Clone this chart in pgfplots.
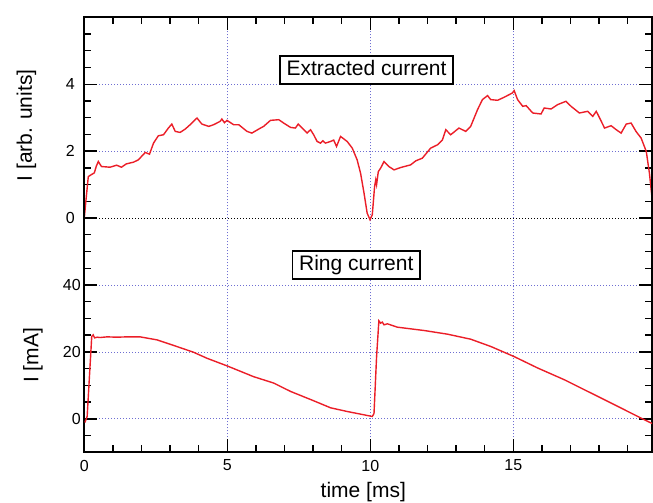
\documentclass[border=0pt]{standalone}
\usepackage{fontspec}
\setmainfont{Liberation Sans}
\usepackage{pgfplots}
\pgfplotsset{compat=1.18}

\definecolor{gridblue}{RGB}{110,110,210}
\definecolor{curvered}{RGB}{235,30,40}

\pgfplotsset{
  frame/.style={
    scale only axis, width=567.7pt, height=435pt,
    xmin=0, xmax=19.85,
    axis line style={line width=1.6pt},
    every tick/.style={black, line width=1.4pt},
    tick align=inside,
    major tick length=13pt, minor tick length=7pt,
    grid style={gridblue, line width=0.8pt, dash pattern=on 0.8pt off 2.2pt},
    tick label style={font=\fontsize{16}{16}\selectfont},
    /pgf/number format/assume math mode=true,
    label style={font=\fontsize{21}{21}\selectfont},
  },
}

\begin{document}
\begin{tikzpicture}
\useasboundingbox (-84.3pt,-50.7pt) rectangle (568.7pt,452.3pt);

% upper trace, extracted current
\begin{axis}[frame,
    ymin=-7, ymax=6,
    xtick={5,10,15}, xticklabels={}, xmajorgrids,
    minor xtick={1,2,3,4,6,7,8,9,11,12,13,14,16,17,18,19},
    ytick={2,4}, ymajorgrids,
    extra y ticks={0},
    extra y tick style={grid style={black, line width=0.8pt, dash pattern=on 0.8pt off 2.2pt}},
    minor ytick={-1,-0.5,0.5,1,1.5,2.5,3,3.5,4.5,5,5.5},
    yticklabel style={xshift=-6pt},
    ylabel={I [arb. units]},
    ylabel style={at={(axis description cs:-0.1018,0.7513)}, anchor=center, rotate=0},
  ]
  \addplot[curvered, line width=1.4pt] coordinates {
    (0.00,0.00) (0.06,0.55) (0.14,1.24) (0.25,1.30) (0.35,1.35) (0.42,1.55) (0.49,1.69)
    (0.60,1.54) (0.75,1.53) (0.90,1.52) (1.13,1.58) (1.30,1.52) (1.47,1.62)
    (1.72,1.67) (1.89,1.74) (2.13,1.96) (2.28,1.91) (2.42,2.24) (2.59,2.46)
    (2.77,2.49) (2.94,2.69) (3.06,2.81) (3.18,2.59) (3.35,2.56) (3.53,2.66)
    (3.70,2.79) (3.94,2.99) (4.11,2.81) (4.35,2.74) (4.52,2.79) (4.75,2.89)
    (4.81,2.96) (4.90,2.85) (4.99,2.92) (5.22,2.79) (5.40,2.79) (5.69,2.59)
    (5.86,2.54) (6.10,2.66) (6.27,2.74) (6.51,2.92) (6.80,2.94) (6.97,2.84)
    (7.21,2.71) (7.38,2.69) (7.48,2.81) (7.62,2.69) (7.79,2.54) (7.91,2.64)
    (8.02,2.49) (8.14,2.29) (8.26,2.24) (8.34,2.31) (8.43,2.24) (8.61,2.29)
    (8.72,2.33) (8.82,2.14) (8.96,2.44) (9.19,2.29) (9.37,2.09) (9.54,1.74)
    (9.66,1.34) (9.78,0.75) (9.89,0.15) (9.99,-0.05) (10.07,0.10) (10.15,0.94)
    (10.19,1.14) (10.22,1.00) (10.28,1.39) (10.36,1.49) (10.48,1.69) (10.65,1.54)
    (10.83,1.44) (11.06,1.51) (11.41,1.59) (11.59,1.71) (11.82,1.79) (12.11,2.09)
    (12.35,2.19) (12.52,2.33) (12.64,2.64) (12.81,2.49) (13.10,2.69) (13.34,2.59)
    (13.51,2.74) (13.75,3.24) (13.92,3.54) (14.10,3.66) (14.21,3.54) (14.45,3.52)
    (14.68,3.61) (14.86,3.69) (14.97,3.74) (15.03,3.81) (15.15,3.54) (15.33,3.34)
    (15.45,3.36) (15.68,3.14) (15.97,3.11) (16.08,3.29) (16.32,3.26) (16.55,3.39)
    (16.84,3.49) (17.02,3.34) (17.31,3.14) (17.60,3.19) (17.78,3.04) (17.90,3.19)
    (18.02,2.99) (18.19,2.69) (18.42,2.76) (18.60,2.64) (18.77,2.54) (18.95,2.81)
    (19.12,2.84) (19.29,2.59) (19.47,2.39) (19.65,1.99) (19.76,1.34) (19.87,0.45)
  };
\end{axis}

% lower trace, ring current
\begin{axis}[frame,
    ymin=-10, ymax=120,
    xtick={0,5,10,15},
    minor xtick={1,2,3,4,6,7,8,9,11,12,13,14,16,17,18,19},
    ytick={0,20,40}, ymajorgrids,
    minor ytick={-5,5,10,15,25,30,35,45,50},
    xticklabel style={yshift=-4pt},
    xlabel={time [ms]},
    xlabel style={at={(axis description cs:0.4915,-0.091)}, anchor=center},
    ylabel={I [mA]},
    ylabel style={at={(axis description cs:-0.0905,0.2225)}, anchor=center, rotate=0},
  ]
  \addplot[curvered, line width=1.4pt] coordinates {
    (0.02,-1.1) (0.10,0.7) (0.26,24.6) (0.31,25.1) (0.36,24.2) (0.45,24.4)
    (0.55,24.3) (0.80,24.5) (1.13,24.4) (1.50,24.5) (1.95,24.5) (2.54,23.6)
    (3.24,21.6) (3.82,19.9) (4.29,18.1) (5.00,15.8) (5.92,12.6) (6.62,10.7)
    (7.21,8.2) (8.02,5.4) (8.61,3.3) (9.19,2.2) (9.78,1.2) (10.07,0.7)
    (10.13,1.6) (10.22,18.6) (10.30,29.3) (10.36,28.6) (10.42,28.9) (10.48,28.1)
    (10.60,28.4) (10.94,27.4) (11.88,26.4) (12.70,25.3) (13.51,23.8) (14.22,21.6)
    (15.03,18.6) (15.85,15.2) (16.78,11.7) (17.72,7.7) (18.89,2.7) (19.47,0.2)
    (19.88,-1.5)
  };
  \node[draw, fill=white, line width=1.5pt, font=\fontsize{21}{21}\selectfont,
        inner xsep=6.5pt, inner ysep=4pt, text height=15.5pt, text depth=4.5pt]
        at (axis cs:9.87,104.3) {Extracted current};
  \node[draw, fill=white, line width=1.5pt, font=\fontsize{21}{21}\selectfont,
        inner xsep=6.5pt, inner ysep=4pt, text height=15.5pt, text depth=4.5pt]
        at (axis cs:9.51,45.9) {Ring current};
\end{axis}
\end{tikzpicture}
\end{document}
